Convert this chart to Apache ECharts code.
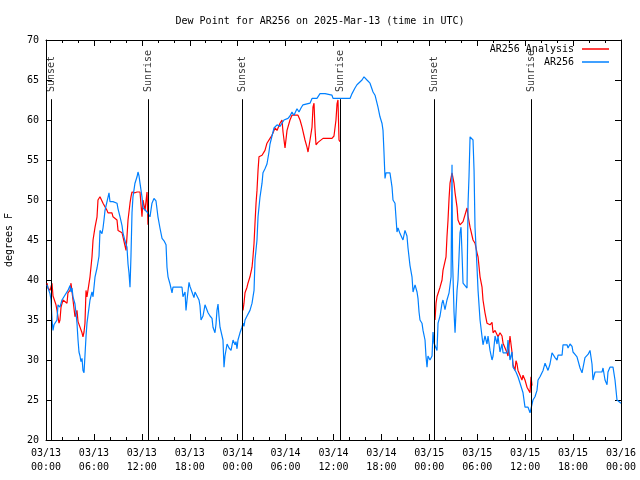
<!DOCTYPE html>
<html>
<head>
<meta charset="utf-8">
<script src="https://cdn.jsdelivr.net/npm/echarts@6/dist/echarts.min.js"></script>
<style>
html,body{margin:0;padding:0;background:#fff;}
#chart{width:640px;height:480px;}
</style>
</head>
<body>
<div id="chart"></div>
<script>
// Hours since 2025-03-13 00:00 UTC
const xTickLabels = ['03/13\n00:00','03/13\n06:00','03/13\n12:00','03/13\n18:00','03/14\n00:00','03/14\n06:00','03/14\n12:00','03/14\n18:00','03/15\n00:00','03/15\n06:00','03/15\n12:00','03/15\n18:00','03/16\n00:00'];

const blueT = [0.13,0.25,0.50,0.63,0.75,0.88,1.00,1.25,1.38,1.50,1.75,2.00,2.25,2.50,2.75,3.01,3.13,3.26,3.38,3.63,3.76,3.88,4.01,4.13,4.26,4.38,4.51,4.63,4.76,4.88,5.01,5.13,5.38,5.51,5.76,5.89,6.14,6.39,6.64,6.76,7.01,7.14,7.26,7.39,7.64,7.89,8.01,8.39,8.89,9.02,9.27,9.52,9.64,9.89,10.14,10.27,10.39,10.52,10.64,10.77,10.89,11.14,11.40,11.52,11.65,11.77,12.02,12.15,12.40,12.65,12.77,13.02,13.27,13.52,13.77,14.02,14.27,14.53,14.78,15.03,15.15,15.28,15.53,15.78,15.90,16.53,17.03,17.15,17.41,17.53,17.66,17.91,18.03,18.28,18.53,18.66,18.91,19.16,19.28,19.41,19.66,19.91,20.16,20.29,20.54,20.79,20.91,21.16,21.29,21.41,21.54,21.66,21.79,22.04,22.16,22.29,22.41,22.67,22.92,23.17,23.42,23.67,23.79,23.92,24.04,24.29,24.54,24.67,24.79,24.92,25.17,25.29,25.54,25.80,25.92,26.05,26.17,26.42,26.55,26.80,27.05,27.17,27.42,27.67,27.92,28.05,28.30,28.55,28.93,29.30,29.55,29.80,30.30,30.55,30.80,31.05,31.43,31.68,31.93,32.18,33.06,33.31,33.93,34.31,34.94,35.19,35.81,35.94,38.07,38.32,38.69,38.94,39.57,39.82,40.07,40.19,40.32,40.57,40.95,41.20,41.57,41.82,42.07,42.20,42.32,42.45,42.57,43.07,43.33,43.45,43.70,43.95,44.08,44.33,44.58,44.70,44.95,45.20,45.33,45.58,45.83,45.96,46.21,46.46,46.58,46.71,46.83,47.08,47.21,47.46,47.58,47.71,47.83,48.08,48.34,48.46,48.59,48.71,48.96,49.09,49.34,49.59,49.71,49.96,50.21,50.47,50.72,50.78,50.84,50.91,51.09,51.22,51.34,51.47,51.59,51.72,51.84,51.97,52.09,52.22,52.47,52.72,52.85,52.97,53.10,53.35,53.47,53.60,53.72,53.85,53.97,54.10,54.35,54.60,54.72,54.97,55.22,55.35,55.60,55.85,55.98,56.23,56.48,56.60,56.85,57.10,57.23,57.73,57.85,58.10,58.35,58.48,58.85,59.10,59.36,59.73,59.98,60.36,60.61,60.86,60.98,61.23,61.48,61.61,61.86,62.24,62.49,62.86,63.11,63.36,63.49,63.74,63.99,64.12,64.62,64.74,64.99,65.24,65.37,65.62,65.87,65.99,66.24,66.49,66.87,67.12,67.24,67.49,67.87,68.12,68.37,68.49,68.75,69.12,69.62,69.75,70.00,70.25,70.37,70.62,71.00,71.25,71.50,71.75,72.00];
const blueV = [39.4,39.0,38.3,37.5,35.0,33.7,34.4,34.4,35.0,36.9,36.6,37.5,37.9,37.9,38.7,39.3,38.5,39.0,37.9,37.0,35.8,34.6,32.5,31.0,30.5,29.8,30.2,28.7,28.4,28.6,32.9,34.6,34.8,37.5,38.5,37.9,40.4,41.5,43.0,46.2,45.8,46.5,47.5,48.7,49.8,50.9,49.8,49.8,49.6,48.9,47.9,46.8,45.9,44.9,44.1,42.0,40.9,39.1,43.0,48.4,50.4,52.1,52.9,53.5,53.0,52.1,50.4,49.0,49.0,48.5,48.3,47.9,49.6,50.2,49.9,47.9,46.5,45.2,44.9,44.4,41.6,40.4,39.5,38.4,39.1,39.1,39.1,37.9,38.5,36.2,37.5,39.7,39.2,38.5,37.8,38.5,38.0,37.5,36.8,35.0,35.5,36.9,36.8,35.9,35.5,35.2,34.1,33.4,34.5,36.2,37.0,35.5,34.1,34.1,32.5,29.1,30.5,32.0,31.5,31.2,32.5,31.9,32.3,31.4,32.5,33.4,34.1,34.6,34.2,35.0,35.5,35.7,36.2,37.1,37.9,38.7,42.5,45.0,47.9,50.4,52.1,53.4,53.9,54.5,56.0,57.0,58.0,59.0,59.4,59.2,59.4,60.0,60.2,60.5,61.0,60.6,61.4,61.0,61.5,61.9,62.1,62.7,62.7,63.3,63.3,63.1,63.1,62.7,62.7,63.3,64.0,64.4,65.0,65.4,65.2,65.0,65.2,64.6,63.5,63.1,61.6,60.4,59.6,58.7,56.0,52.7,53.4,53.4,51.6,50.0,49.6,46.0,46.5,45.8,45.6,45.0,46.2,45.5,44.0,41.8,40.4,38.5,39.4,38.5,37.7,36.0,35.0,34.6,33.7,32.5,30.5,29.1,30.5,30.0,30.5,33.5,32.1,32.0,31.2,34.6,35.5,37.1,37.5,36.3,37.5,38.4,40.4,48.0,54.4,42.5,36.0,33.4,36.0,38.7,40.0,43.0,45.9,46.6,43.4,39.6,39.3,39.0,49.6,53.0,57.9,57.7,57.5,53.7,46.6,44.0,41.6,38.7,35.0,32.9,31.9,33.0,32.0,33.0,31.2,30.0,30.5,33.0,32.0,33.0,31.0,32.0,30.9,30.9,32.5,30.0,31.0,29.1,28.5,27.9,27.1,25.9,24.1,24.1,23.4,23.4,25.0,25.4,26.2,27.5,27.9,28.7,29.6,28.7,29.5,30.9,31.0,30.3,30.0,30.6,30.6,31.9,32.1,31.9,31.5,32.0,31.7,31.0,30.7,30.4,29.0,28.4,28.6,30.3,30.7,31.2,29.5,27.5,28.5,28.5,28.5,29.0,27.5,26.9,28.5,29.1,29.1,27.5,25.0,25.0,24.6];

const redT = [0.13,0.25,0.50,0.75,0.88,1.00,1.25,1.38,1.50,1.63,1.75,1.88,2.13,2.63,2.75,3.01,3.13,3.26,3.38,3.63,3.88,4.01,4.26,4.51,4.63,4.76,4.88,5.01,5.13,5.51,5.76,5.89,6.14,6.39,6.51,6.76,7.01,7.14,7.64,7.76,8.26,8.39,8.89,9.02,9.52,9.64,9.89,10.02,10.14,10.27,10.52,10.64,10.77,10.89,11.14,11.40,11.77,12.02,12.15,12.40,12.65,12.77,
  18.0,
  24.67,24.79,24.92,25.17,25.29,25.54,25.80,25.92,26.05,26.17,26.30,26.42,26.55,26.67,26.80,27.05,27.42,27.67,28.05,28.30,28.68,28.93,29.30,29.55,29.68,29.93,30.18,30.55,30.80,31.55,31.81,32.06,32.43,32.68,32.81,33.06,33.31,33.43,33.56,33.68,33.81,34.06,34.69,35.81,36.06,36.31,36.44,36.56,36.69,36.81,
  42.0,
  48.71,48.84,48.96,49.34,49.59,49.71,49.96,50.09,50.21,50.34,50.47,50.59,50.84,50.97,51.09,51.22,51.47,51.59,51.84,52.09,52.22,52.47,52.72,52.85,53.10,53.47,53.72,53.97,54.10,54.35,54.60,54.72,54.97,55.22,55.35,55.60,55.85,55.98,56.23,56.60,56.85,57.10,57.23,57.73,57.85,58.10,58.35,58.48,58.73,58.85,58.98,59.10,59.60,59.73,59.98,60.23,60.61,60.73,60.86];
const redV = [39.6,39.0,38.7,39.6,38.0,37.9,36.9,36.2,35.4,34.6,35.0,36.6,37.5,37.1,38.4,38.7,39.6,39.6,37.5,35.4,36.2,34.8,34.6,33.4,32.9,33.5,34.6,38.7,37.9,40.4,42.9,45.0,46.6,47.9,50.0,50.4,50.2,49.6,48.7,48.4,48.4,47.9,47.5,46.2,45.9,45.4,45.4,43.7,45.4,47.5,49.6,50.4,51.0,51.2,50.9,51.0,51.0,47.9,50.0,48.7,51.0,46.9,
  null,
  36.2,37.1,38.4,39.1,39.6,40.4,41.6,42.9,44.6,47.1,49.6,51.2,53.7,55.4,55.4,55.6,56.2,57.1,57.7,58.1,59.0,58.7,59.6,60.0,58.5,56.5,58.7,60.0,60.6,60.6,60.0,59.1,57.5,56.6,56.0,57.5,59.1,61.6,62.1,59.0,56.9,57.2,57.7,57.7,58.0,60.0,62.0,62.5,57.5,57.3,
  null,
  35.0,37.1,37.9,39.1,40.0,41.2,41.2,42.9,45.4,47.5,50.2,52.1,53.4,53.5,52.1,50.9,49.1,47.5,46.9,46.9,47.3,47.3,49.0,48.0,46.6,45.0,44.6,43.4,42.9,40.4,39.1,37.5,35.9,34.6,34.4,34.4,34.7,33.4,33.7,32.9,33.4,33.0,32.1,30.9,30.5,33.0,31.0,29.4,28.7,29.9,29.5,28.7,27.5,28.1,27.5,26.6,25.9,27.9,26.8];

const eventNames = ['Sunset','Sunrise','Sunset','Sunrise','Sunset','Sunrise'];
const eventT = [0.63, 12.77, 24.58, 36.85, 48.62, 60.76];
const eventLineTop = 62.6;
const eventLabelBase = 63.5;

const FONT = 'DejaVu Sans Mono';
const chart = echarts.init(document.getElementById('chart'), null, {renderer:'canvas'});

const xAxisCommon = {
  type:'value', min:0, max:72, interval:6,
  axisLine:{show:true, onZero:false, lineStyle:{color:'#000', width:1}},
  axisTick:{show:true, inside:true, length:6, lineStyle:{color:'#000'}},
  minorTick:{show:true, splitNumber:3, length:3, lineStyle:{color:'#000'}},
  splitLine:{show:false}, minorSplitLine:{show:false}
};
const yAxisCommon = {
  type:'value', min:20, max:70, interval:5,
  axisLine:{show:true, onZero:false, lineStyle:{color:'#000', width:1}},
  axisTick:{show:true, inside:true, length:6, lineStyle:{color:'#000'}},
  splitLine:{show:false}
};

const option = {
  animation:false,
  backgroundColor:'#fff',
  title:{
    text:'Dew Point for AR256 on 2025-Mar-13 (time in UTC)',
    left:'center', top:11,
    textStyle:{fontFamily:FONT, fontSize:10, fontWeight:'normal', color:'#000'}
  },
  legend:{
    orient:'vertical', right:26, top:39, align:'right',
    icon:'rect', itemWidth:27, itemHeight:1.5, itemGap:3,
    textStyle:{fontFamily:FONT, fontSize:10, color:'#000', padding:[0,3,0,0]},
    data:['AR256 Analysis','AR256']
  },
  grid:{left:46, right:19, top:40, bottom:40, containLabel:false, outerBoundsMode:'none'},
  xAxis:[
    Object.assign({}, xAxisCommon, {
      position:'bottom',
      axisLabel:{show:true, fontFamily:FONT, fontSize:10, color:'#000', lineHeight:14, margin:6,
        formatter:function(v){ return xTickLabels[Math.round(v/6)] || ''; }}
    }),
    Object.assign({}, xAxisCommon, {position:'top', axisLabel:{show:false}})
  ],
  yAxis:[
    Object.assign({}, yAxisCommon, {
      position:'left',
      name:'degrees F', nameLocation:'middle', nameGap:32,
      nameTextStyle:{fontFamily:FONT, fontSize:10, color:'#000'},
      axisLabel:{fontFamily:FONT, fontSize:10, color:'#000', margin:7}
    }),
    Object.assign({}, yAxisCommon, {position:'right', axisLabel:{show:false}})
  ],
  series:[
    {
      name:'events', type:'scatter', xAxisIndex:0, yAxisIndex:0,
      symbolSize:1, itemStyle:{color:'rgba(0,0,0,0)'}, silent:true,
      data:eventT.map(function(t){ return [t, eventLabelBase]; }),
      label:{show:true, position:'inside', rotate:90, align:'left', verticalAlign:'middle',
        fontFamily:FONT, fontSize:10, color:'#000',
        formatter:function(p){ return eventNames[p.dataIndex]; }},
      markLine:{
        silent:true, symbol:['none','none'], animation:false,
        label:{show:false},
        lineStyle:{color:'#000', width:1, type:'solid'},
        data:eventT.map(function(t){ return [{coord:[t,20]},{coord:[t,eventLineTop]}]; })
      }
    },
    {
      name:'AR256 Analysis', type:'line', xAxisIndex:0, yAxisIndex:0,
      showSymbol:false, symbol:'none', connectNulls:false,
      lineStyle:{color:'#ff0000', width:1.2}, itemStyle:{color:'#ff0000'},
      data:redT.map(function(t,i){ return [t, redV[i] === null ? '-' : redV[i]]; })
    },
    {
      name:'AR256', type:'line', xAxisIndex:0, yAxisIndex:0,
      showSymbol:false, symbol:'none',
      lineStyle:{color:'#0080ff', width:1.2}, itemStyle:{color:'#0080ff'},
      data:blueT.map(function(t,i){ return [t, blueV[i]]; })
    }
  ]
};
chart.setOption(option);
</script>
</body>
</html>
